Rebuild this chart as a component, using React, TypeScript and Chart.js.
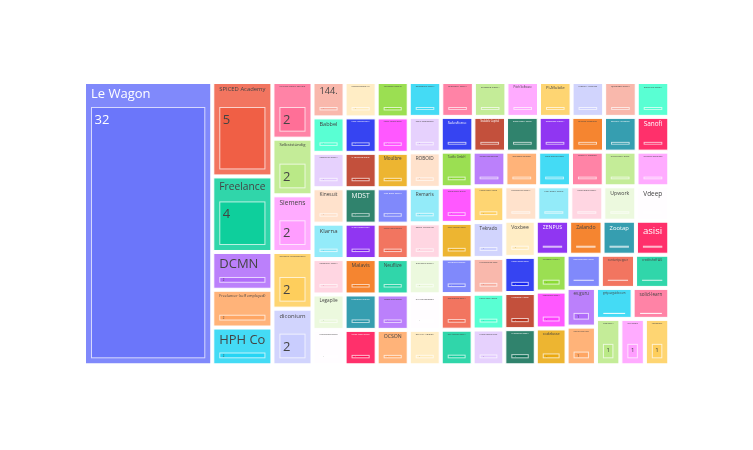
import React, { useEffect, useRef } from "react";
import { Chart, registerables } from "chart.js";

Chart.register(...registerables);

// Tiles in plotting order (sorted by value, as drawn)
const labels: string[] = [
  "Le Wagon", "SPICED Academy", "Freelance", "DCMN", "Freelancer (self employed)", "HPH Co",
  "Lufthansa Industry Solutions", "Selbstständig", "Siemens", "Technische Universität Berlin", "diconium",
  "144.", "Babbel", "Contentful GmbH", "Kinesuit", "Klarna", "Knowunity GmbH", "Legaplie", "Lieferando Deutschland",
  "Lufthansa Innovation Hub", "Lunar Ventures GmbH", "M-Consulting Group", "MDST", "MYTOYS Group GmbH", "Malavis", "McKinsey Digital", "Media Markt Saturn",
  "Mercedes-Benz.io", "Mobile Academy Berlin", "Moulbre", "N26 Bank GmbH", "Native Instruments", "Neuflize", "Nosto Solutions", "OCSON",
  "Onefootball GmbH", "Outfittery GmbH", "Personio GmbH", "Pitch Software", "Pi-Mobile", "Project A Ventures", "Quandoo GmbH", "Raisin DS GmbH",
  "Rebuy Recommerce", "ROBOID", "Remaris", "Rocket Internet SE", "Runtastic GmbH", "SAP Deutschland", "SCHUFA Holding",
  "Salesforce", "Scalable Capital", "Shore GmbH Berlin", "Staffbase GmbH", "Statista Research", "Stryber AG Berlin", "Sanofi",
  "Taxfix GmbH", "Teamleader Berlin", "Tech Academy Berlin", "Telefónica Germany", "Thermondo GmbH", "Tier Mobility GmbH",
  "Tinder Engineering", "TourRadar Germany", "Trade Republic Bank", "Trivago N.V. Düsseldorf", "Truffls GmbH Berlin", "Typeform Barcelona",
  "Uberall GmbH Berlin", "Tekrado", "Ubermetrics Tech", "Unzer GmbH Berlin", "Urban Sports Club",
  "Usercentrics GmbH", "Uvex Safety Group", "Uhlala Group GmbH", "Upwork", "Vdeep",
  "Voxbee", "Wefox Group Berlin", "Westwing Home", "Wunderflats GmbH",
  "ZENPUS", "Zalando", "Zootap", "asisi",
  "auxmoney GmbH", "bettermarks GmbH", "codebase",
  "comtravo GmbH Berlin", "contentpepper", "creditshelf AG",
  "ev.guru", "freiheit.com tech",
  "getyourguide.com", "solid-learn",
  "tado GmbH", "unu motors", "yoummday",
];

const values: number[] = [
  32, 5, 4, 2, 2, 2,
  2, 2, 2, 2, 2,
  1, 1, 1, 1, 1, 1, 1, 1,
  1, 1, 1, 1, 1, 1, 1, 1,
  1, 1, 1, 1, 1, 1, 1, 1,
  1, 1, 1, 1, 1, 1, 1, 1,
  1, 1, 1, 1, 1, 1, 1,
  1, 1, 1, 1, 1, 1, 1,
  1, 1, 1, 1, 1, 1,
  1, 1, 1, 1, 1, 1,
  1, 1, 1, 1, 1,
  1, 1, 1, 1, 1,
  1, 1, 1, 1,
  1, 1, 1, 1,
  1, 1, 1,
  1, 1, 1,
  1, 1,
  1, 1,
  1, 1, 1,
];

// Plotly default colorway
const colorway: string[] = [
  "#636efa", "#EF553B", "#00cc96", "#ab63fa", "#FFA15A",
  "#19d3f3", "#FF6692", "#B6E880", "#FF97FF", "#FECB52",
];

const FONT = '"Open Sans", verdana, arial, sans-serif';
const TEXT_SIZE = 13;
const PAD_T = 24, PAD_L = 6, PAD_R = 6, PAD_B = 6;
const TILE_GAP = 3;

type RGB = [number, number, number];

function hexToRgb(hex: string): RGB {
  const h = hex.replace("#", "");
  return [parseInt(h.slice(0, 2), 16), parseInt(h.slice(2, 4), 16), parseInt(h.slice(4, 6), 16)];
}

function rgbToHsl([r, g, b]: RGB): [number, number, number] {
  r /= 255; g /= 255; b /= 255;
  const max = Math.max(r, g, b), min = Math.min(r, g, b);
  let h = 0, s = 0;
  const l = (max + min) / 2;
  if (max !== min) {
    const d = max - min;
    s = l > 0.5 ? d / (2 - max - min) : d / (max + min);
    if (max === r) h = (g - b) / d + (g < b ? 6 : 0);
    else if (max === g) h = (b - r) / d + 2;
    else h = (r - g) / d + 4;
    h /= 6;
  }
  return [h, s, l];
}

function hue2rgb(p: number, q: number, t: number) {
  if (t < 0) t += 1;
  if (t > 1) t -= 1;
  if (t < 1 / 6) return p + (q - p) * 6 * t;
  if (t < 1 / 2) return q;
  if (t < 2 / 3) return p + (q - p) * (2 / 3 - t) * 6;
  return p;
}

function hslToRgb(h: number, s: number, l: number): RGB {
  if (s === 0) return [Math.round(l * 255), Math.round(l * 255), Math.round(l * 255)];
  const q = l < 0.5 ? l * (1 + s) : l + s - l * s;
  const p = 2 * l - q;
  return [
    Math.round(hue2rgb(p, q, h + 1 / 3) * 255),
    Math.round(hue2rgb(p, q, h) * 255),
    Math.round(hue2rgb(p, q, h - 1 / 3) * 255),
  ];
}

function shiftLight(hex: string, amt: number): RGB {
  const [h, s, l] = rgbToHsl(hexToRgb(hex));
  return hslToRgb(h, s, Math.min(1, Math.max(0, l + amt)));
}

// extended treemap colors: original, 20% lighter, 20% darker
const extendedColors: RGB[] = [
  ...colorway.map((c) => hexToRgb(c)),
  ...colorway.map((c) => shiftLight(c, 0.2)),
  ...colorway.map((c) => shiftLight(c, -0.2)),
];

function mix(a: RGB, b: RGB, t: number): RGB {
  return [a[0] * (1 - t) + b[0] * t, a[1] * (1 - t) + b[1] * t, a[2] * (1 - t) + b[2] * t];
}
function css(c: RGB, a = 1) {
  return `rgba(${Math.round(c[0])},${Math.round(c[1])},${Math.round(c[2])},${a})`;
}
function isLight(c: RGB) {
  return (c[0] * 299 + c[1] * 587 + c[2] * 114) / 1000 >= 128;
}

type Rect = { x0: number; y0: number; x1: number; y1: number };

function squarify(vals: number[], x0: number, y0: number, x1: number, y1: number): Rect[] {
  const out: Rect[] = new Array(vals.length);
  let value = vals.reduce((a, b) => a + b, 0);
  let i0 = 0, i1 = 0;
  const n = vals.length;
  while (i0 < n) {
    const dx = x1 - x0, dy = y1 - y0;
    let sumValue = vals[i1++];
    let minValue = sumValue, maxValue = sumValue;
    const alpha = Math.max(dy / dx, dx / dy) / value;
    let beta = sumValue * sumValue * alpha;
    let minRatio = Math.max(maxValue / beta, beta / minValue);
    for (; i1 < n; ++i1) {
      const nv = vals[i1];
      sumValue += nv;
      if (nv < minValue) minValue = nv;
      if (nv > maxValue) maxValue = nv;
      beta = sumValue * sumValue * alpha;
      const newRatio = Math.max(maxValue / beta, beta / minValue);
      if (newRatio > minRatio) { sumValue -= nv; break; }
      minRatio = newRatio;
    }
    if (dx < dy) {
      const ny = i1 >= n ? y1 : y0 + (dy * sumValue) / value;
      let x = x0;
      const k = (x1 - x0) / sumValue;
      for (let i = i0; i < i1; i++) {
        const nx = x + vals[i] * k;
        out[i] = { x0: x, y0, x1: nx, y1: ny };
        x = nx;
      }
      y0 = ny;
    } else {
      const nx = i1 >= n ? x1 : x0 + (dx * sumValue) / value;
      let y = y0;
      const k = (y1 - y0) / sumValue;
      for (let i = i0; i < i1; i++) {
        const ny = y + vals[i] * k;
        out[i] = { x0, y0: y, x1: nx, y1: ny };
        y = ny;
      }
      x0 = nx;
    }
    value -= sumValue;
    i0 = i1;
  }
  return out;
}

const treemapPlugin = {
  id: "treemapTiles",
  afterDraw(chart: any) {
    const ctx: CanvasRenderingContext2D = chart.ctx;
    const xs = chart.scales.x, ys = chart.scales.y;
    const X0 = xs.getPixelForValue(0), X1 = xs.getPixelForValue(1);
    const Y0 = ys.getPixelForValue(0), Y1 = ys.getPixelForValue(1);
    const half = TILE_GAP / 2;
    const rects = squarify(values, X0 - half, Y0 - half, X1 + half, Y1 + half);
    ctx.save();
    rects.forEach((r0, i) => {
      const r = { x0: r0.x0 + half, y0: r0.y0 + half, x1: r0.x1 - half, y1: r0.y1 - half };
      const base = extendedColors[i % extendedColors.length];
      const white: RGB = [255, 255, 255];
      const parentFill = mix(base, white, 0.1875);
      const txtColor = isLight(base) ? "#444" : "#fff";
      const w = r.x1 - r.x0, h = r.y1 - r.y0;
      // parent tile
      ctx.globalAlpha = 1;
      ctx.fillStyle = css(parentFill);
      ctx.fillRect(r.x0, r.y0, w, h);
      ctx.strokeStyle = "#fff";
      ctx.lineWidth = 1;
      ctx.strokeRect(r.x0, r.y0, w, h);
      // leaf tile
      const ix0 = r.x0 + PAD_L, iy0 = r.y0 + PAD_T;
      const iw = Math.max(0, w - PAD_L - PAD_R), ih = Math.max(0, h - PAD_T - PAD_B);
      ctx.globalAlpha = 0.7;
      ctx.fillStyle = css(base);
      ctx.fillRect(ix0, iy0, iw, ih);
      ctx.strokeStyle = "#fff";
      ctx.strokeRect(ix0, iy0, iw, ih);
      ctx.globalAlpha = 1;
      // header label
      ctx.textBaseline = "alphabetic";
      ctx.textAlign = "left";
      ctx.fillStyle = txtColor;
      ctx.font = `${TEXT_SIZE}px ${FONT}`;
      const tw = ctx.measureText(labels[i]).width;
      const availW = w - 11;
      if (availW > 0) {
        const sc = Math.min(1, availW / tw);
        const fs = TEXT_SIZE * sc;
        if (fs >= 0.8) {
          ctx.font = `${fs}px ${FONT}`;
          ctx.fillText(labels[i], r.x0 + 5.5, r.y0 + 1.5 + 1.02 * fs);
        }
      }
      // value label inside leaf
      const vt = String(values[i]);
      ctx.font = `${TEXT_SIZE}px ${FONT}`;
      const vw = ctx.measureText(vt).width;
      const sc2 = Math.min(1, (iw - 6) / vw, (ih - 1) / 16.5);
      const fs2 = TEXT_SIZE * sc2;
      if (fs2 >= 0.8) {
        ctx.font = `${fs2}px ${FONT}`;
        ctx.fillText(vt, ix0 + 3, iy0 + 16.5 * sc2);
      }
    });
    ctx.restore();
  },
};

export default function App() {
  const ref = useRef<HTMLCanvasElement>(null);
  useEffect(() => {
    if (!ref.current) return;
    const chart = new Chart(ref.current, {
      type: "scatter",
      data: { datasets: [{ data: [] }] },
      options: {
        animation: false,
        responsive: false,
        layout: { padding: { left: 85.5, top: 83.5, right: 85.2, bottom: 86.2 } },
        plugins: { legend: { display: false }, tooltip: { enabled: false } },
        scales: {
          x: { type: "linear", min: 0, max: 1, display: false },
          y: { type: "linear", min: 0, max: 1, display: false, reverse: true },
        },
      },
      plugins: [treemapPlugin],
    });
    return () => chart.destroy();
  }, []);
  return (
    <div style={{ position: "absolute", left: 0, top: 0, width: 753, height: 450, background: "#fff" }}>
      <canvas ref={ref} width={753} height={450} style={{ display: "block" }} />
    </div>
  );
}
